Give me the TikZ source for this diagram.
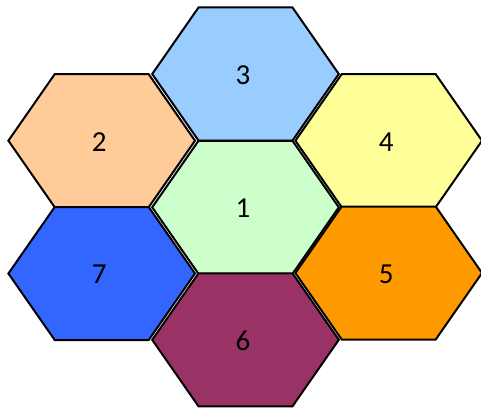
\documentclass[tikz,border=0pt]{standalone}
\usepackage{fontspec}
\setmainfont{Carlito}
\definecolor{c1}{HTML}{CCFFCC}
\definecolor{c2}{HTML}{FFCC99}
\definecolor{c3}{HTML}{99CCFF}
\definecolor{c4}{HTML}{FFFF99}
\definecolor{c5}{HTML}{FF9900}
\definecolor{c6}{HTML}{993366}
\definecolor{c7}{HTML}{3366FF}
\begin{document}
\begin{tikzpicture}[x=1pt,y=-1pt,
  hexline/.style={draw=black,line width=2pt,line join=miter},
  hexlabel/.style={font=\fontsize{29}{34}\selectfont,inner sep=0pt}]
\useasboundingbox (0,0) rectangle (481,409);
\newcommand\hexat[4]{%
  \path[hexline,fill=#3] (#1-93.3,#2) -- (#1-47,#2-66.5) -- (#1+47,#2-66.5) -- (#1+93.3,#2) -- (#1+47,#2+66.5) -- (#1-47,#2+66.5) -- cycle;
  \node[hexlabel] (n#4) at (#1-2.5,#2+1) {#4};}
\hexat{101.7}{140.7}{c2}{2}
\hexat{101.7}{273.5}{c7}{7}
\hexat{245.5}{74}{c3}{3}
\hexat{245.5}{207.3}{c1}{1}
\hexat{245.5}{339.8}{c6}{6}
\hexat{388.7}{140.7}{c4}{4}
\hexat{388.7}{273}{c5}{5}
\end{tikzpicture}
\end{document}
